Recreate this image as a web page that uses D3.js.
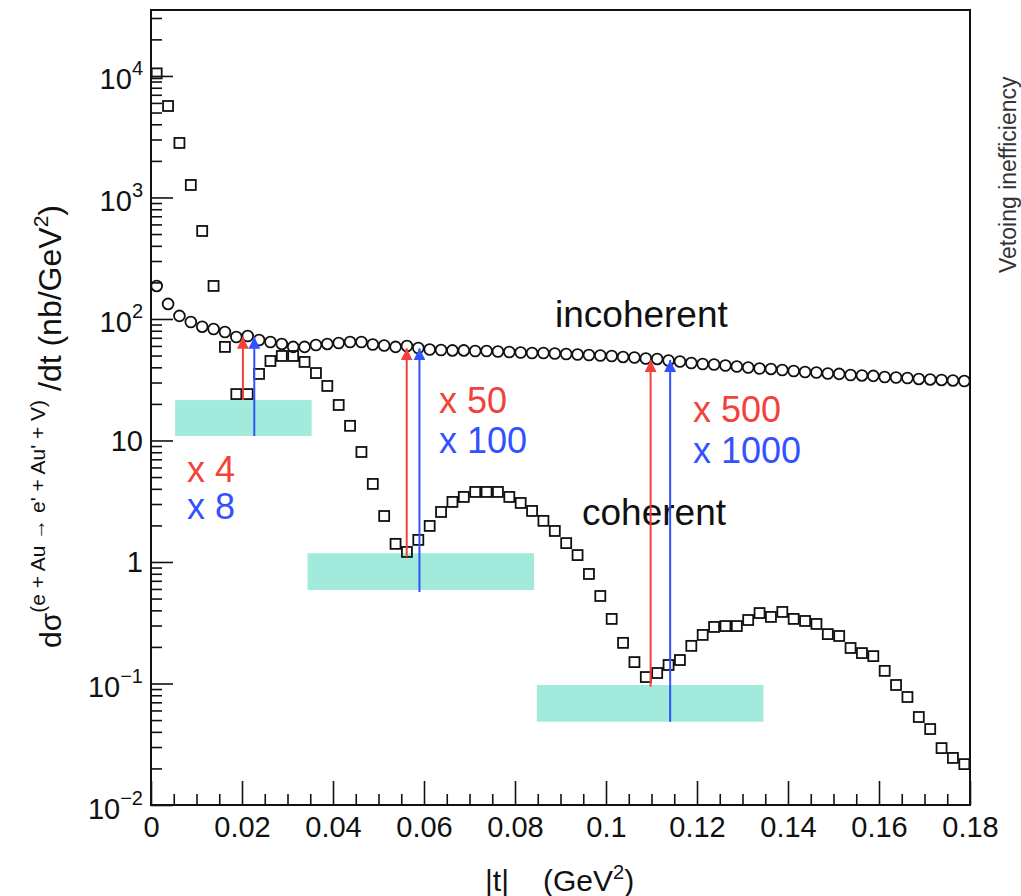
<!DOCTYPE html>
<html>
<head>
<meta charset="utf-8">
<script src="https://cdn.jsdelivr.net/npm/d3@7"></script>
<style>
  body { margin: 0; background: #fff; }
  svg { font-family: "Liberation Sans", Arial, Helvetica, sans-serif; }
</style>
</head>
<body>
<svg width="1021" height="896"></svg>
<script>
// bin centres of |t| (GeV^2), bin width 0.0025
var tBins = [
  0.00125, 0.00375, 0.00625, 0.00875, 0.01125, 0.01375, 0.01625, 0.01875, 0.02125, 0.02375,
  0.02625, 0.02875, 0.03125, 0.03375, 0.03625, 0.03875, 0.04125, 0.04375, 0.04625, 0.04875,
  0.05125, 0.05375, 0.05625, 0.05875, 0.06125, 0.06375, 0.06625, 0.06875, 0.07125, 0.07375,
  0.07625, 0.07875, 0.08125, 0.08375, 0.08625, 0.08875, 0.09125, 0.09375, 0.09625, 0.09875,
  0.10125, 0.10375, 0.10625, 0.10875, 0.11125, 0.11375, 0.11625, 0.11875, 0.12125, 0.12375,
  0.12625, 0.12875, 0.13125, 0.13375, 0.13625, 0.13875, 0.14125, 0.14375, 0.14625, 0.14875,
  0.15125, 0.15375, 0.15625, 0.15875, 0.16125, 0.16375, 0.16625, 0.16875, 0.17125, 0.17375,
  0.17625, 0.17875];

// dsigma/dt (nb/GeV^2)
var coherent = [
  10500, 5660, 2810, 1267, 530, 187, 58.9, 24.1, 24.1, 35.3,
  45.1, 49.6, 49.6, 44.3, 35.9, 28.1, 19.6, 13.2, 8.04, 4.39,
  2.39, 1.41, 1.21, 1.52, 1.98, 2.58, 3.12, 3.43, 3.77, 3.77,
  3.77, 3.43, 3.06, 2.63, 2.18, 1.80, 1.43, 1.14, 0.797, 0.525,
  0.340, 0.216, 0.150, 0.113, 0.122, 0.142, 0.156, 0.204, 0.251, 0.292,
  0.297, 0.297, 0.333, 0.380, 0.353, 0.388, 0.340, 0.327, 0.309, 0.255,
  0.246, 0.196, 0.178, 0.168, 0.127, 0.0972, 0.0774, 0.0530, 0.0422, 0.0294,
  0.0244, 0.0217];

var incoherent = [
  187, 133, 106, 94.5, 86.4, 82.7, 78.2, 71.1, 72.4, 67.2,
  64.7, 62.3, 58.9, 58.9, 61.1, 62.3, 63.4, 64.7, 64.7, 61.7,
  60.5, 58.9, 59.9, 57.7, 56.1, 55.6, 55.1, 55.1, 54.5, 54.5,
  54.0, 53.5, 53.0, 52.5, 52.5, 52.0, 51.5, 51.0, 50.5, 50.1,
  49.6, 48.7, 48.2, 47.3, 46.9, 45.5, 44.7, 43.4, 42.6, 42.2,
  41.4, 40.6, 39.9, 39.1, 38.8, 38.0, 37.3, 36.6, 36.3, 35.6,
  35.3, 34.6, 34.3, 34.0, 33.3, 33.0, 32.7, 32.1, 31.8, 31.5,
  31.2, 30.9];

var xTicks = [0, 0.02, 0.04, 0.06, 0.08, 0.1, 0.12, 0.14, 0.16, 0.18];
var xTickLabels = ["0", "0.02", "0.04", "0.06", "0.08", "0.1", "0.12", "0.14", "0.16", "0.18"];
var yTicks = [0.01, 0.1, 1, 10, 100, 1000, 10000];
var yTickBase = ["10", "10", "1", "10", "10", "10", "10"];
var yTickExp = ["\u22122", "\u22121", "", "", "2", "3", "4"];

// veto windows (t range and cross-section band)
var vetoT0 = [0.0053, 0.0344, 0.0848];
var vetoT1 = [0.0353, 0.0842, 0.1346];
var vetoLo = [10.9, 0.588, 0.0485];
var vetoHi = [21.5, 1.18, 0.0972];

// suppression arrows: red (top of band) and blue (bottom of band) up to incoherent level
var redT = [0.0202, 0.0562, 0.1098];
var redFrom = [21.5, 1.105, 0.0941];
var blueT = [0.0227, 0.0590, 0.1141];
var blueFrom = [10.9, 0.566, 0.0485];
var arrowTo = [71.4, 57.4, 46.0];

var redLabels = ["x 4", "x 50", "x 500"];
var blueLabels = ["x 8", "x 100", "x 1000"];

var RED = "#f2423a", BLUE = "#3352ff", TEAL = "#a2eadb";

var svg = d3.select("svg"),
    plotL = 151, plotR = 970, plotT = 10, plotB = 805;

var x = d3.scaleLinear().domain([0, 0.18]).range([plotL, plotR]);
var y = d3.scaleLog().domain([0.01, 34900]).range([plotB, plotT]);

// veto bands
svg.append("g").selectAll("rect")
  .data(vetoT0)
  .enter().append("rect")
  .attr("x", function (d) { return x(d); })
  .attr("width", function (d, i) { return x(vetoT1[i]) - x(d); })
  .attr("y", function (d, i) { return y(vetoHi[i]); })
  .attr("height", function (d, i) { return y(vetoLo[i]) - y(vetoHi[i]); })
  .attr("fill", TEAL);

// axes
function styleAxis(g) {
  g.select(".domain").remove();
  g.selectAll(".tick line").attr("stroke", "#111").attr("stroke-width", 1.6);
  g.attr("font-family", null).attr("font-size", null);
}

var yMinor = y.ticks().filter(function (d) { return yTicks.indexOf(d) < 0; });
svg.append("g").attr("transform", "translate(" + plotL + ",0)")
  .call(d3.axisLeft(y).tickValues(yMinor).tickSizeInner(-11).tickSizeOuter(0).tickFormat(""))
  .call(styleAxis);

var yAxis = svg.append("g").attr("transform", "translate(" + plotL + ",0)")
  .call(d3.axisLeft(y).tickValues(yTicks).tickSizeInner(-22).tickSizeOuter(0).tickPadding(8).tickFormat(""))
  .call(styleAxis);

yAxis.selectAll(".tick text")
  .attr("font-size", "29px")
  .attr("fill", "#111")
  .attr("dy", function (d, i) { return yTickExp[i] ? "13px" : "10px"; })
  .each(function (d, i) {
    var t = d3.select(this);
    t.append("tspan").text(yTickBase[i]);
    if (yTickExp[i]) t.append("tspan").attr("dy", "-14px").attr("font-size", "20px").text(yTickExp[i]);
  });

var xMinor = d3.range(0, 0.1801, 0.005).filter(function (d) {
  return Math.abs(d / 0.02 - Math.round(d / 0.02)) > 1e-6;
});
svg.append("g").attr("transform", "translate(0," + plotB + ")")
  .call(d3.axisBottom(x).tickValues(xMinor).tickSizeInner(-11).tickSizeOuter(0).tickFormat(""))
  .call(styleAxis);

var xAxis = svg.append("g").attr("transform", "translate(0," + plotB + ")")
  .call(d3.axisBottom(x).tickValues(xTicks).tickSizeInner(-24).tickSizeOuter(0).tickPadding(11)
    .tickFormat(function (d, i) { return xTickLabels[i]; }))
  .call(styleAxis);
xAxis.selectAll(".tick text").attr("font-size", "29px").attr("fill", "#111");

// frame
svg.append("rect")
  .attr("x", plotL).attr("y", plotT)
  .attr("width", plotR - plotL).attr("height", plotB - plotT)
  .attr("fill", "none").attr("stroke", "#111").attr("stroke-width", 2);

// data: incoherent (open circles) and coherent (open squares)
svg.append("g").selectAll("circle")
  .data(incoherent)
  .enter().append("circle")
  .attr("cx", function (d, i) { return x(tBins[i]); })
  .attr("cy", function (d) { return y(d); })
  .attr("r", 5.4)
  .attr("fill", "none")
  .attr("stroke", "#111")
  .attr("stroke-width", 1.8);

svg.append("g").selectAll("rect")
  .data(coherent)
  .enter().append("rect")
  .attr("x", function (d, i) { return x(tBins[i]) - 5; })
  .attr("y", function (d) { return y(d) - 5; })
  .attr("width", 10)
  .attr("height", 10)
  .attr("fill", "none")
  .attr("stroke", "#111")
  .attr("stroke-width", 1.8);

// text annotations
function label(txt, px, py, color, size) {
  svg.append("text").attr("x", px).attr("y", py)
    .attr("font-size", size + "px").attr("fill", color).text(txt);
}
label("incoherent", 555, 327, "#111", 37);
label("coherent", 582, 525, "#111", 37);
label(redLabels[0], 187, 482, RED, 36);
label(blueLabels[0], 187, 519, BLUE, 36);
label(redLabels[1], 439, 413, RED, 36);
label(blueLabels[1], 439, 453, BLUE, 36);
label(redLabels[2], 693, 422, RED, 36);
label(blueLabels[2], 693, 463, BLUE, 36);

// arrows
var defs = svg.append("defs");
[["headRed", RED], ["headBlue", BLUE]].forEach(function (m) {
  defs.append("marker")
    .attr("id", m[0])
    .attr("viewBox", "0 0 12 12")
    .attr("markerUnits", "userSpaceOnUse")
    .attr("markerWidth", 12).attr("markerHeight", 12)
    .attr("refX", 12).attr("refY", 6)
    .attr("orient", "auto")
    .append("path").attr("d", "M0,0L12,6L0,12Z").attr("fill", m[1]);
});

svg.append("g").selectAll("line")
  .data(redT)
  .enter().append("line")
  .attr("x1", function (d) { return x(d); })
  .attr("x2", function (d) { return x(d); })
  .attr("y1", function (d, i) { return y(redFrom[i]); })
  .attr("y2", function (d, i) { return y(arrowTo[i]); })
  .attr("stroke", RED).attr("stroke-width", 2)
  .attr("marker-end", "url(#headRed)");

svg.append("g").selectAll("line")
  .data(blueT)
  .enter().append("line")
  .attr("x1", function (d) { return x(d); })
  .attr("x2", function (d) { return x(d); })
  .attr("y1", function (d, i) { return y(blueFrom[i]); })
  .attr("y2", function (d, i) { return y(arrowTo[i]); })
  .attr("stroke", BLUE).attr("stroke-width", 2)
  .attr("marker-end", "url(#headBlue)");

// axis titles
var xt = svg.append("text").attr("y", 891).attr("font-size", "30px").attr("fill", "#111");
xt.append("tspan").attr("x", 485).text("|t|");
xt.append("tspan").attr("x", 543).text("(GeV");
xt.append("tspan").attr("dy", "-12px").attr("font-size", "20px").text("2");
xt.append("tspan").attr("dy", "12px").text(")");

var yt = svg.append("text")
  .attr("transform", "translate(61,648) rotate(-90)")
  .attr("font-size", "30px").attr("fill", "#111");
yt.append("tspan").text("d\u03c3");
yt.append("tspan").attr("dy", "-16px").attr("font-size", "21px").text("(e + Au \u2192 e' + Au' + V)");
yt.append("tspan").attr("dy", "16px").attr("font-size", "32px").text(" /dt (nb/GeV");
yt.append("tspan").attr("dy", "-13px").attr("font-size", "21px").text("2");
yt.append("tspan").attr("dy", "13px").attr("font-size", "32px").text(")");

// neighbouring panel's title, at the page edge
svg.append("text")
  .attr("transform", "translate(1016,273) rotate(-90)")
  .attr("font-size", "23px").attr("fill", "#333")
  .text("Vetoing inefficiency");
</script>
</body>
</html>
